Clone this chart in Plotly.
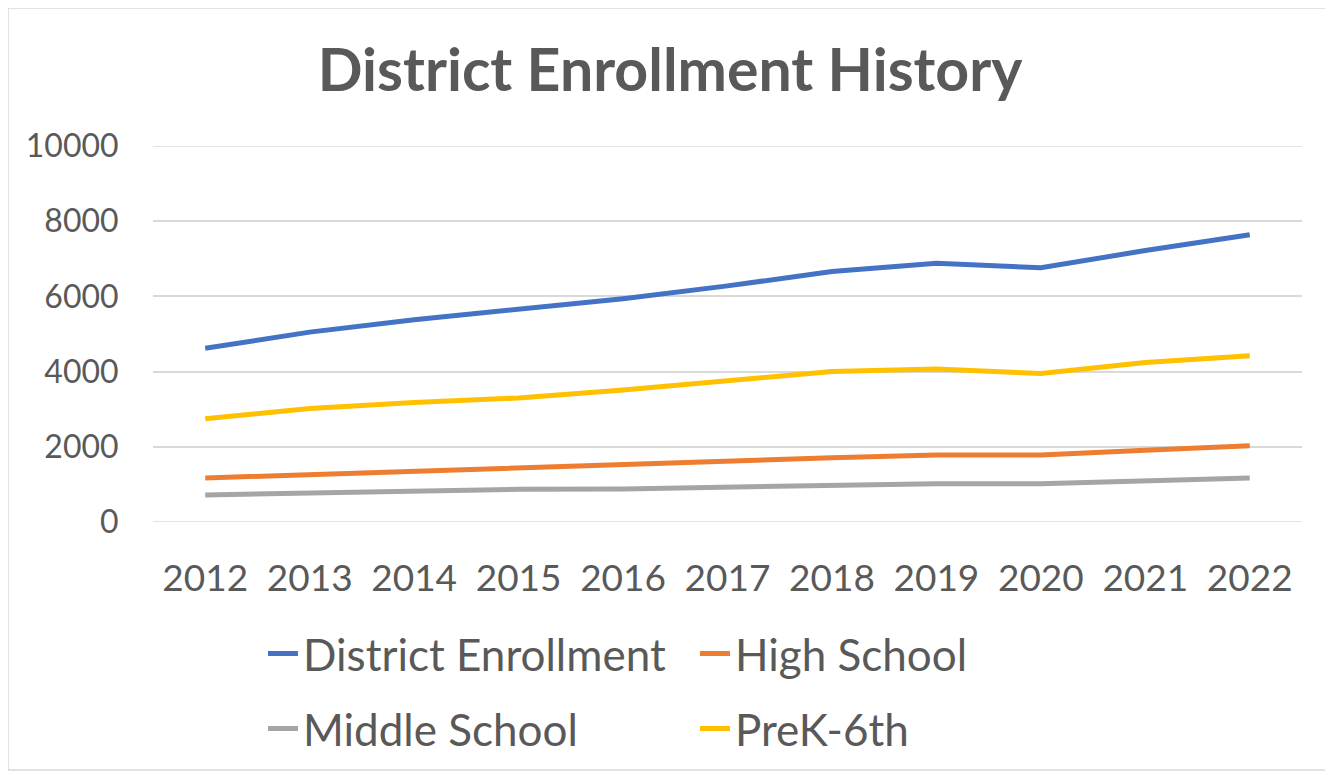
import plotly.graph_objects as go

years = ["2012", "2013", "2014", "2015", "2016", "2017", "2018", "2019", "2020", "2021", "2022"]
district = [4620, 5050, 5380, 5660, 5940, 6280, 6660, 6880, 6760, 7220, 7640]
high_school = [1170, 1260, 1360, 1460, 1540, 1630, 1710, 1780, 1780, 1910, 2030]
middle_school = [720, 770, 810, 870, 880, 920, 960, 1020, 1020, 1080, 1170]
prek_6th = [2745, 3020, 3180, 3300, 3510, 3740, 4000, 4070, 3950, 4240, 4420]

series = [
    ("District Enrollment", district, "#4472C4", "legend"),
    ("High School", high_school, "#ED7D31", "legend"),
    ("Middle School", middle_school, "#A5A5A5", "legend2"),
    ("PreK-6th", prek_6th, "#FFC000", "legend2"),
]

# page body has an 8px margin; work in page coordinates and convert
OFF = 8
W, H = 1333 - OFF, 775 - OFF
def fx(p):
    return p - OFF

PL, PR, PT, PB = 153, 1302, 146, 522   # plot area in page pixels
L, R, T, B = fx(PL), W - fx(PR), fx(PT), H - fx(PB)
FONT = "Lato"
TXT = "#595959"
GRID = "#D9D9D9"

fig = go.Figure()
for name, vals, color, lg in series:
    fig.add_trace(go.Scatter(x=years, y=vals, name=name, mode="lines",
                             line=dict(color=color, width=5), legend=lg))

pw, ph = W - L - R, H - T - B
def px(p):
    return (fx(p) - L) / pw
def py(p):
    return (H - B - fx(p)) / ph

# chart border
fig.add_shape(type="rect", xref="paper", yref="paper",
              x0=px(8), x1=px(1330), y0=py(770), y1=py(8),
              line=dict(color=GRID, width=1.5), fillcolor="rgba(0,0,0,0)", layer="below")
# edge gridlines (0 and max)
for v in (0, 10000):
    fig.add_shape(type="line", xref="paper", yref="y", x0=0, x1=1, y0=v, y1=v,
                  line=dict(color=GRID, width=1.5), layer="below")

fig.update_layout(
    width=W, height=H,
    margin=dict(l=L, r=R, t=T, b=B),
    paper_bgcolor="white", plot_bgcolor="white",
    font=dict(family=FONT, color=TXT),
    title=dict(text="<b>District Enrollment History</b>", x=fx(670) / W, xref="container",
               xanchor="center", y=1 - fx(70) / H, yref="container", yanchor="middle",
               font=dict(family=FONT, size=59, color=TXT)),
    xaxis=dict(type="category", range=[-0.5, 10.5], showgrid=False, zeroline=False,
               showline=False, ticks="outside", ticklen=24, tickcolor="rgba(0,0,0,0)",
               tickfont=dict(size=37, color=TXT, family=FONT)),
    yaxis=dict(range=[0, 10000], dtick=2000, tickformat="d", showgrid=True, gridcolor=GRID,
               gridwidth=1.5, zeroline=False, showline=False, ticks="outside", ticklen=27,
               tickcolor="rgba(0,0,0,0)", tickfont=dict(size=32, color=TXT, family=FONT)),
    legend=dict(orientation="h", xref="container", yref="container",
                x=fx(263) / W, y=1 - fx(654) / H, xanchor="left", yanchor="middle",
                entrywidth=387, entrywidthmode="pixels",
                font=dict(size=44, color=TXT, family=FONT), bgcolor="rgba(0,0,0,0)"),
    legend2=dict(orientation="h", xref="container", yref="container",
                 x=fx(263) / W, y=1 - fx(729) / H, xanchor="left", yanchor="middle",
                 entrywidth=387, entrywidthmode="pixels",
                 font=dict(size=44, color=TXT, family=FONT), bgcolor="rgba(0,0,0,0)"),
    showlegend=True,
)

fig.write_html("out.html")
